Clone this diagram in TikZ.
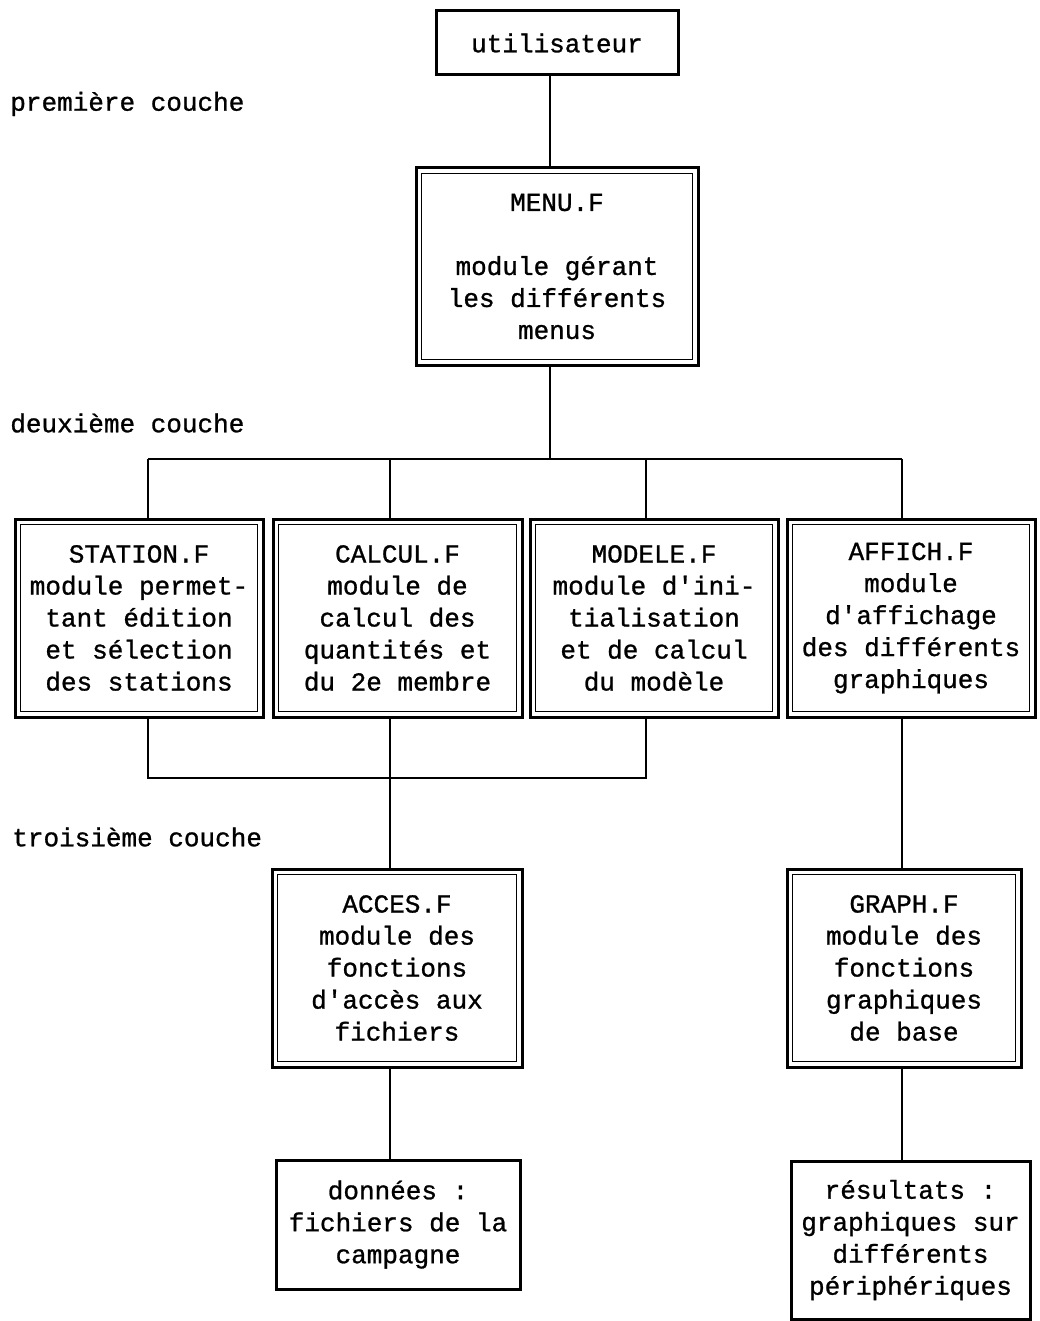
\documentclass[tikz,border=0pt]{standalone}
\usepackage{fontspec}
\newfontfamily\machine[FakeBold=1]{Liberation Mono}
\usetikzlibrary{calc}

\begin{document}
\begin{tikzpicture}[x=1pt,y=-1pt,line width=2pt,
  box/.style={draw,line width=3pt,outer sep=0pt,inner sep=0pt,align=center,
    font=\machine\fontsize{26}{32}\selectfont},
  module/.style={box,minimum width=#1,minimum height=198pt},
  couche/.style={anchor=west,font=\machine\fontsize{26}{32}\selectfont}]

\useasboundingbox (0,0) rectangle (1039,1321);

% les couches
\node[couche] (c1) at (6,104) {première couche};
\node[couche] (c2) at (6,423) {deuxième couche};
\node[couche] (c3) at (8,837) {troisième couche};

% les modules
\node[box,minimum width=242pt,minimum height=64pt] (util) at (557,43) {utilisateur};
\node[module=282pt,minimum height=197pt] (menu) at (557,266.5)
  {MENU.F\\[32pt]module gérant\\les différents\\menus};

\node[module=248pt] (station) at (139,618)
  {STATION.F\\module permet-\\tant édition\\et sélection\\des stations};
\node[module=249pt] (calcul) at (397.5,618)
  {CALCUL.F\\module de\\calcul des\\quantités et\\du 2e membre};
\node[module=248pt] (modele) at (654,618)
  {MODELE.F\\module d'ini-\\tialisation\\et de calcul\\du modèle};
\node[module=248pt] (affich) at (911,618)
  {AFFICH.F\\module\\d'affichage\\des différents\\graphiques};

\node[module=250pt] (acces) at (397,968)
  {ACCES.F\\module des\\fonctions\\d'accès aux\\fichiers};
\node[module=234pt] (graph) at (904,968)
  {GRAPH.F\\module des\\fonctions\\graphiques\\de base};

\node[box,minimum width=244pt,minimum height=129pt] (donnees) at (398,1224.5)
  {données :\\fichiers de la\\campagne};
\node[box,minimum width=239pt,minimum height=158pt] (result) at (910.5,1240)
  {résultats :\\graphiques sur\\différents\\périphériques};

% double cadre des modules
\foreach \m in {menu,station,calcul,modele,affich,acces,graph}
  \draw[line width=1.3pt] ([shift={(5.5pt,-5.5pt)}]\m.north west)
    rectangle ([shift={(-5.5pt,5.5pt)}]\m.south east);

% liaisons
\coordinate (bus) at (0,459);
\coordinate (bas) at (0,778);
\draw ([xshift=-7pt]util.south) -- ([xshift=-7pt]util.south |- menu.north);
\draw ([xshift=-7pt]menu.south) -- ([xshift=-7pt]menu.south |- bus);
\draw ([xshift=9pt]station.north |- bus) -- ([xshift=-9pt]affich.north |- bus);
\foreach \m/\dx in {station/9,calcul/-7.5,modele/-8,affich/-9}
  \draw ([xshift=\dx pt]\m.north |- bus) -- ([xshift=\dx pt]\m.north);

\draw ([xshift=9pt]station.south) -- ([xshift=9pt]station.south |- bas)
  -- ([xshift=-8pt]modele.south |- bas) -- ([xshift=-8pt]modele.south);
\draw ([xshift=-7.5pt]calcul.south) -- ([xshift=-7.5pt]calcul.south |- acces.north);
\draw ([xshift=-9pt]affich.south) -- ([xshift=-9pt]affich.south |- graph.north);
\draw ([xshift=-7pt]acces.south) -- ([xshift=-7pt]acces.south |- donnees.north);
\draw ([xshift=-2pt]graph.south) -- ([xshift=-2pt]graph.south |- result.north);

\end{tikzpicture}
\end{document}
